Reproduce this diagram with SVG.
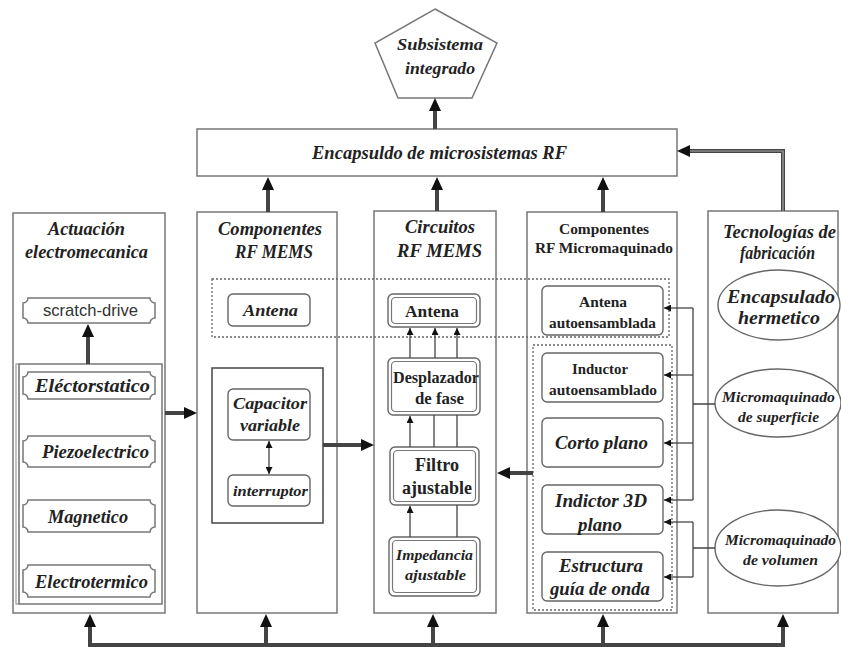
<svg xmlns="http://www.w3.org/2000/svg" width="841" height="647" viewBox="0 0 841 647">
<defs>
<style>
.box{fill:#fff;stroke:#777;stroke-width:1.5}
.sub{fill:#fff;stroke:#666;stroke-width:1.4}
.dot{fill:none;stroke:#666;stroke-width:1.3;stroke-dasharray:2,2}
.t{font-family:"Liberation Serif","DejaVu Serif",serif;font-weight:bold;font-style:italic;fill:#222;text-anchor:middle}
.u{font-style:normal}
.dbl{stroke:#444;stroke-width:4;fill:none}
.dbli{stroke:#aaa;stroke-width:1.2;fill:none}
.thin{stroke:#444;stroke-width:1.3;fill:none}
</style>
<marker id="big" markerUnits="userSpaceOnUse" markerWidth="14" markerHeight="12" refX="0" refY="6" orient="auto" viewBox="0 0 14 12"><path d="M0,0 L13,6 L0,12 Z" fill="#111"/></marker>
<marker id="sm" markerUnits="userSpaceOnUse" markerWidth="8" markerHeight="7" refX="7" refY="3.5" orient="auto" viewBox="0 0 8 7"><path d="M0,0 L7,3.5 L0,7 Z" fill="#111"/></marker>
<marker id="sms" markerUnits="userSpaceOnUse" markerWidth="8" markerHeight="7" refX="0" refY="3.5" orient="auto" viewBox="0 0 8 7"><path d="M7,0 L0,3.5 L7,7 Z" fill="#111"/></marker>
</defs>
<rect width="841" height="647" fill="#fff"/>

<g id="subsistema">
<polygon class="box" points="435,9 497,43 472,98 398,98 375,43"/>
<text class="t" x="440" y="50" font-size="17" textLength="86" lengthAdjust="spacingAndGlyphs">Subsistema</text>
<text class="t" x="440" y="74" font-size="17" textLength="70" lengthAdjust="spacingAndGlyphs">integrado</text>
</g>

<g id="encapsulado">
<rect class="box" x="197" y="129" width="480" height="47"/>
<text class="t" x="439.5" y="159" font-size="18" textLength="255" lengthAdjust="spacingAndGlyphs">Encapsuldo de microsistemas RF</text>
</g>

<g id="actuacion">
<rect class="box" x="13" y="213" width="152" height="400"/>
<text class="t" x="86.5" y="235" font-size="18" textLength="77" lengthAdjust="spacingAndGlyphs">Actuación</text>
<text class="t" x="86.5" y="258" font-size="18" textLength="123" lengthAdjust="spacingAndGlyphs">electromecanica</text>
<rect class="box" x="19" y="364" width="143" height="240"/>
<rect fill="none" stroke="#888" stroke-width="1" x="16" y="364" width="3" height="240"/>
</g>

<g id="scratch">
<path class="box" d="M28,298 H150 A5,5 0 0 0 155,303 V318 A5,5 0 0 0 150,323 H28 A5,5 0 0 0 23,318 V303 A5,5 0 0 0 28,298 Z"/>
<text x="90.5" y="316" font-family="Liberation Sans,Arial,sans-serif" font-size="17" fill="#333" text-anchor="middle" textLength="95" lengthAdjust="spacingAndGlyphs">scratch-drive</text>
</g>
<g id="electrostatico">
<path class="box" d="M28,372 H150 A5,5 0 0 0 155,377 V394 A5,5 0 0 0 150,399 H28 A5,5 0 0 0 23,394 V377 A5,5 0 0 0 28,372 Z"/>
<text class="t" x="92.5" y="392" font-size="18" textLength="115" lengthAdjust="spacingAndGlyphs">Eléctorstatico</text>
</g>
<g id="piezo">
<path class="box" d="M28,436 H150 A5,5 0 0 0 155,441 V462 A5,5 0 0 0 150,467 H28 A5,5 0 0 0 23,462 V441 A5,5 0 0 0 28,436 Z"/>
<text class="t" x="95.5" y="458" font-size="18" textLength="107" lengthAdjust="spacingAndGlyphs">Piezoelectrico</text>
</g>
<g id="magnetico">
<path class="box" d="M28,500 H150 A5,5 0 0 0 155,505 V527 A5,5 0 0 0 150,532 H28 A5,5 0 0 0 23,527 V505 A5,5 0 0 0 28,500 Z"/>
<text class="t" x="88" y="523" font-size="18" textLength="80" lengthAdjust="spacingAndGlyphs">Magnetico</text>
</g>
<g id="electrotermico">
<path class="box" d="M28,565 H150 A5,5 0 0 0 155,570 V592 A5,5 0 0 0 150,597 H28 A5,5 0 0 0 23,592 V570 A5,5 0 0 0 28,565 Z"/>
<text class="t" x="91.5" y="588" font-size="18" textLength="113" lengthAdjust="spacingAndGlyphs">Electrotermico</text>
</g>

<g id="componentes-mems">
<rect class="box" x="197" y="212" width="140" height="401"/>
<text class="t" x="270" y="235" font-size="18" textLength="104" lengthAdjust="spacingAndGlyphs">Componentes</text>
<text class="t" x="274" y="258" font-size="18" textLength="78" lengthAdjust="spacingAndGlyphs">RF MEMS</text>
<rect fill="none" stroke="#444" stroke-width="1.5" x="212" y="368" width="111" height="155"/>
</g>
<g id="antena-mems">
<rect class="sub" x="228" y="294" width="82" height="32" rx="5"/>
<text class="t" x="270.5" y="316" font-size="17" textLength="55" lengthAdjust="spacingAndGlyphs">Antena</text>
</g>
<g id="capacitor">
<rect class="sub" x="228" y="389" width="82" height="51" rx="5"/>
<text class="t" x="270" y="409" font-size="17" textLength="74" lengthAdjust="spacingAndGlyphs">Capacitor</text>
<text class="t" x="270" y="431" font-size="17" textLength="60" lengthAdjust="spacingAndGlyphs">variable</text>
</g>
<g id="interruptor">
<rect class="sub" x="228" y="475" width="82" height="31" rx="5"/>
<text class="t" x="270.5" y="496" font-size="15" textLength="75" lengthAdjust="spacingAndGlyphs">interruptor</text>
</g>

<g id="circuitos">
<rect class="box" x="374" y="211" width="122" height="402"/>
<text class="t" x="440" y="233" font-size="18" textLength="70" lengthAdjust="spacingAndGlyphs">Circuitos</text>
<text class="t" x="439.5" y="257" font-size="18" textLength="85" lengthAdjust="spacingAndGlyphs">RF MEMS</text>
</g>
<g id="antena-circ">
<rect class="sub" x="388" y="294" width="92" height="33" rx="5"/>
<rect fill="none" stroke="#777" stroke-width="1.2" x="391.5" y="297.5" width="85" height="26" rx="4"/>
<text class="t u" x="432" y="317" font-size="17" textLength="54" lengthAdjust="spacingAndGlyphs">Antena</text>
</g>
<g id="desplazador">
<rect class="sub" x="388" y="358" width="92" height="57" rx="5"/>
<rect fill="none" stroke="#777" stroke-width="1.2" x="391.5" y="361.5" width="85" height="50" rx="4"/>
<text class="t u" x="436" y="383" font-size="17" textLength="86" lengthAdjust="spacingAndGlyphs">Desplazador</text>
<text class="t u" x="439.5" y="404" font-size="17" textLength="49" lengthAdjust="spacingAndGlyphs">de fase</text>
</g>
<g id="filtro">
<rect class="sub" x="390" y="447" width="89" height="58" rx="5"/>
<rect fill="none" stroke="#777" stroke-width="1.2" x="393.5" y="450.5" width="82" height="51" rx="4"/>
<text class="t u" x="437" y="471" font-size="18" textLength="44" lengthAdjust="spacingAndGlyphs">Filtro</text>
<text class="t u" x="437" y="494" font-size="18" textLength="70" lengthAdjust="spacingAndGlyphs">ajustable</text>
</g>
<g id="impedancia">
<rect class="sub" x="389" y="537" width="91" height="59" rx="5"/>
<rect fill="none" stroke="#777" stroke-width="1.2" x="392.5" y="540.5" width="84" height="52" rx="4"/>
<text class="t" x="434.5" y="560" font-size="15" textLength="77" lengthAdjust="spacingAndGlyphs">Impedancia</text>
<text class="t" x="435.5" y="580" font-size="15" textLength="61" lengthAdjust="spacingAndGlyphs">ajustable</text>
</g>

<g id="componentes-micro">
<rect class="box" x="527" y="212" width="150" height="401"/>
<text class="t u" x="604" y="234" font-size="15" textLength="90" lengthAdjust="spacingAndGlyphs">Componentes</text>
<text class="t u" x="604" y="253" font-size="15" textLength="138" lengthAdjust="spacingAndGlyphs">RF Micromaquinado</text>
<rect class="dot" x="533" y="345" width="139" height="265"/>
</g>
<g id="antena-auto">
<rect class="sub" x="542" y="286" width="121" height="49" rx="5"/>
<text class="t u" x="603" y="307" font-size="15" textLength="48" lengthAdjust="spacingAndGlyphs">Antena</text>
<text class="t u" x="602.5" y="328" font-size="15" textLength="107" lengthAdjust="spacingAndGlyphs">autoensamblada</text>
</g>
<g id="inductor-auto">
<rect class="sub" x="542" y="353" width="121" height="49" rx="5"/>
<text class="t u" x="600" y="374" font-size="15" textLength="56" lengthAdjust="spacingAndGlyphs">Inductor</text>
<text class="t u" x="603" y="395" font-size="15" textLength="108" lengthAdjust="spacingAndGlyphs">autoensamblado</text>
</g>
<g id="corto">
<rect class="sub" x="542" y="418" width="121" height="49" rx="5"/>
<text class="t" x="601.5" y="449" font-size="19" textLength="93" lengthAdjust="spacingAndGlyphs">Corto plano</text>
</g>
<g id="indictor">
<rect class="sub" x="542" y="485" width="121" height="49" rx="5"/>
<text class="t" x="601" y="507" font-size="19" textLength="92" lengthAdjust="spacingAndGlyphs">Indictor 3D</text>
<text class="t" x="600" y="531" font-size="19" textLength="44" lengthAdjust="spacingAndGlyphs">plano</text>
</g>
<g id="estructura">
<rect class="sub" x="542" y="552" width="121" height="49" rx="5"/>
<text class="t" x="601" y="572" font-size="18" textLength="84" lengthAdjust="spacingAndGlyphs">Estructura</text>
<text class="t" x="600" y="595" font-size="18" textLength="100" lengthAdjust="spacingAndGlyphs">guía de onda</text>
</g>

<g id="tecnologias">
<rect class="box" x="708" y="211" width="130" height="402"/>
<text class="t" x="779.5" y="238" font-size="18" textLength="113" lengthAdjust="spacingAndGlyphs">Tecnologías de</text>
<text class="t" x="777.5" y="259" font-size="18" textLength="75" lengthAdjust="spacingAndGlyphs">fabricación</text>
</g>
<g id="hermetico">
<ellipse class="sub" cx="779" cy="305" rx="61" ry="35"/>
<text class="t" x="781" y="303" font-size="19" textLength="108" lengthAdjust="spacingAndGlyphs">Encapsulado</text>
<text class="t" x="779" y="324" font-size="19" textLength="82" lengthAdjust="spacingAndGlyphs">hermetico</text>
</g>
<g id="superficie">
<ellipse class="sub" cx="778" cy="403" rx="63" ry="34"/>
<text class="t" x="778.5" y="402" font-size="15" textLength="113" lengthAdjust="spacingAndGlyphs">Micromaquinado</text>
<text class="t" x="778.5" y="422" font-size="15" textLength="81" lengthAdjust="spacingAndGlyphs">de superficie</text>
</g>
<g id="volumen">
<ellipse class="sub" cx="778" cy="548" rx="63" ry="38"/>
<text class="t" x="780.5" y="545" font-size="15" textLength="111" lengthAdjust="spacingAndGlyphs">Micromaquinado</text>
<text class="t" x="780.5" y="565" font-size="15" textLength="75" lengthAdjust="spacingAndGlyphs">de volumen</text>
</g>

<rect id="antena-band" class="dot" x="212" y="279" width="457" height="58"/>

<g id="connectors">
<line class="dbl" x1="435" y1="129" x2="435" y2="111" marker-end="url(#big)"/>
<line class="dbl" x1="268" y1="212" x2="268" y2="190" marker-end="url(#big)"/>
<line class="dbl" x1="437" y1="211" x2="437" y2="190" marker-end="url(#big)"/>
<line class="dbl" x1="603" y1="212" x2="603" y2="190" marker-end="url(#big)"/>
<path class="dbl" d="M783,211 V151 H690" marker-end="url(#big)"/>
<path class="dbli" d="M783,211 V151 H690"/>
<line class="dbl" x1="88" y1="364" x2="88" y2="337" marker-end="url(#big)"/>
<line class="dbl" x1="165" y1="413" x2="184" y2="413" marker-end="url(#big)"/>
<line class="dbl" x1="323" y1="445" x2="361" y2="445" marker-end="url(#big)"/>
<line class="dbl" x1="533" y1="473" x2="510" y2="473" marker-end="url(#big)"/>
<path class="dbl" d="M88,645 H785"/>
<line class="dbl" x1="90" y1="645" x2="90" y2="627" marker-end="url(#big)"/>
<line class="dbl" x1="266" y1="645" x2="266" y2="627" marker-end="url(#big)"/>
<line class="dbl" x1="433" y1="645" x2="433" y2="627" marker-end="url(#big)"/>
<line class="dbl" x1="603" y1="645" x2="603" y2="627" marker-end="url(#big)"/>
<line class="dbl" x1="783" y1="645" x2="783" y2="627" marker-end="url(#big)"/>

<line class="thin" x1="269" y1="441" x2="269" y2="474" marker-start="url(#sms)" marker-end="url(#sm)"/>

<line class="thin" x1="410" y1="358" x2="410" y2="328" marker-end="url(#sm)"/>
<line class="thin" x1="435" y1="358" x2="435" y2="328" marker-end="url(#sm)"/>
<line class="thin" x1="457" y1="358" x2="457" y2="328" marker-end="url(#sm)"/>
<line class="thin" x1="410" y1="447" x2="410" y2="416" marker-end="url(#sm)"/>
<line class="thin" x1="434" y1="447" x2="434" y2="415"/>
<line class="thin" x1="457" y1="447" x2="457" y2="415"/>
<line class="thin" x1="410" y1="537" x2="410" y2="506" marker-end="url(#sm)"/>
<line class="thin" x1="457" y1="537" x2="457" y2="505"/>

<path class="thin" d="M693,308 V500 M693,404 H715"/>
<line class="thin" x1="693" y1="308" x2="664" y2="308" marker-end="url(#sm)"/>
<line class="thin" x1="693" y1="375" x2="664" y2="375" marker-end="url(#sm)"/>
<line class="thin" x1="693" y1="443" x2="664" y2="443" marker-end="url(#sm)"/>
<line class="thin" x1="693" y1="500" x2="664" y2="500" marker-end="url(#sm)"/>
<path class="thin" d="M693,522 V577 M693,548 H715"/>
<line class="thin" x1="693" y1="522" x2="664" y2="522" marker-end="url(#sm)"/>
<line class="thin" x1="693" y1="577" x2="664" y2="577" marker-end="url(#sm)"/>
</g>
</svg>
